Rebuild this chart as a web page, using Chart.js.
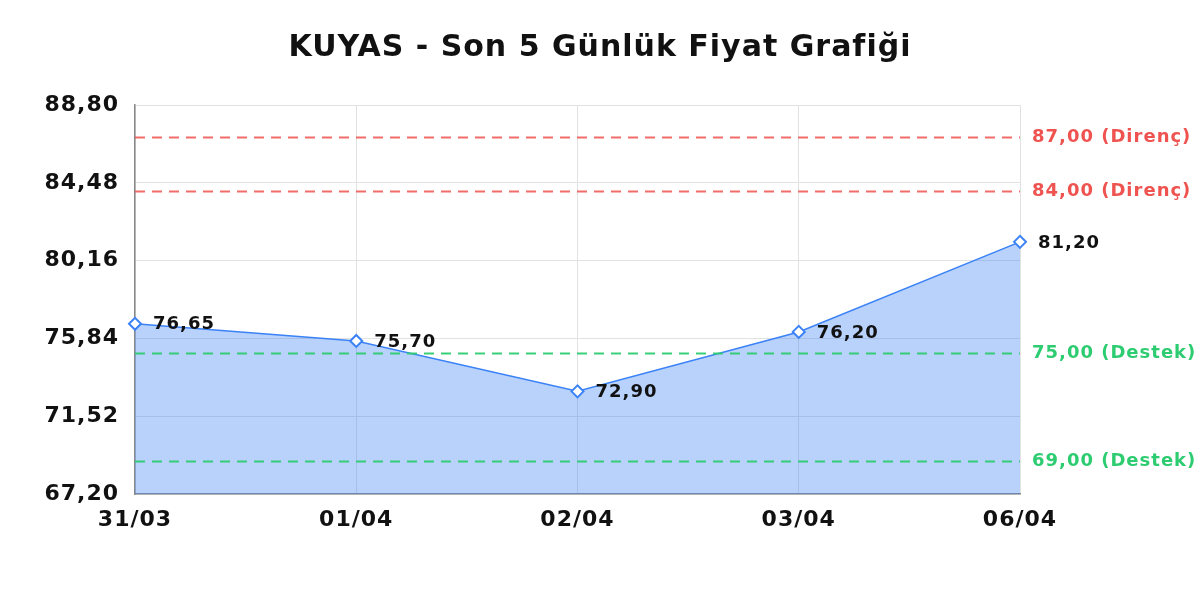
<!DOCTYPE html>
<html>
<head>
<meta charset="utf-8">
<script src="https://cdn.jsdelivr.net/npm/chart.js@4.4.1/dist/chart.umd.min.js"></script>
<style>
  html, body { margin: 0; padding: 0; background: #fff; }
  #wrap { width: 1200px; height: 600px; }
</style>
</head>
<body>
<div id="wrap"><canvas id="chart" width="1200" height="600"></canvas></div>
<script>
// price data
const dates = ['31/03', '01/04', '02/04', '03/04', '06/04'];
const prices = [76.65, 75.70, 72.90, 76.20, 81.20];
const yTicks = [67.20, 71.52, 75.84, 80.16, 84.48, 88.80];

// support / resistance levels
const levelValues = [87.00, 84.00, 75.00, 69.00];
const levelNames = ['Direnç', 'Direnç', 'Destek', 'Destek'];

const fmt = v => v.toFixed(2).replace('.', ',');
const FONT = "'DejaVu Sans', sans-serif";

// reference text is a bit wider (hinted advances), fake it with letter spacing
const spacing = {
  id: 'spacing',
  beforeDraw(chart) { chart.ctx.letterSpacing = '1px'; }
};

// draws the dashed levels + their labels on the right
const levelsPlugin = {
  id: 'levels',
  afterDatasetsDraw(chart) {
    const { ctx, chartArea, scales: { y } } = chart;
    ctx.save();
    levelValues.forEach((v, i) => {
      const py = y.getPixelForValue(v);
      const red = levelNames[i] === 'Direnç';
      ctx.strokeStyle = red ? 'rgba(239,83,80,0.85)' : 'rgba(46,204,113,0.95)';
      ctx.lineWidth = 2;
      ctx.setLineDash([10, 7]);
      ctx.beginPath();
      ctx.moveTo(chartArea.left, py);
      ctx.lineTo(chartArea.right, py);
      ctx.stroke();
      ctx.setLineDash([]);
      ctx.fillStyle = red ? '#ef5350' : '#2ecc71';
      ctx.font = 'bold 18px ' + FONT;
      ctx.textAlign = 'left';
      ctx.textBaseline = 'middle';
      ctx.fillText(fmt(v) + ' (' + levelNames[i] + ')', chartArea.right + 12, py);
    });
    ctx.restore();
  }
};

// value labels next to each point
const valueLabels = {
  id: 'valueLabels',
  afterDatasetsDraw(chart) {
    const { ctx } = chart;
    const meta = chart.getDatasetMeta(0);
    ctx.save();
    ctx.fillStyle = '#111';
    ctx.font = 'bold 18px ' + FONT;
    ctx.textAlign = 'left';
    ctx.textBaseline = 'middle';
    meta.data.forEach((pt, i) => {
      ctx.fillText(fmt(prices[i]), pt.x + 18, pt.y + 1);
    });
    ctx.restore();
  }
};

const ctx = document.getElementById('chart').getContext('2d');
new Chart(ctx, {
  type: 'line',
  data: {
    labels: dates,
    datasets: [{
      data: prices,
      borderColor: '#3b82f6',
      borderWidth: 1.5,
      backgroundColor: 'rgba(59,130,246,0.36)',
      fill: 'start',
      tension: 0,
      pointStyle: 'rectRot',
      pointRadius: 6,
      pointBorderWidth: 2,
      pointBackgroundColor: '#fff',
      pointBorderColor: '#3b82f6'
    }]
  },
  options: {
    responsive: false,
    animation: false,
    layout: { padding: { left: 0, right: 0, top: 0, bottom: 66 } },
    plugins: {
      legend: { display: false },
      tooltip: { enabled: false },
      title: {
        display: true,
        text: 'KUYAS - Son 5 Günlük Fiyat Grafiği',
        color: '#111',
        font: { family: FONT, size: 30, weight: 'bold' },
        padding: { top: 30, bottom: 39 }
      }
    },
    scales: {
      x: {
        offset: false,
        grid: { color: '#e2e2e2', drawTicks: false },
        border: { color: '#888', width: 1.5 },
        ticks: { color: '#111', font: { family: FONT, size: 22, weight: 'bold' }, padding: 13, maxRotation: 0 },
        afterFit(s) { s.height = 40; }
      },
      y: {
        min: yTicks[0],
        max: yTicks[yTicks.length - 1],
        afterBuildTicks(s) { s.ticks = yTicks.map(v => ({ value: v })); },
        grid: { color: '#e2e2e2', drawTicks: false },
        border: { color: '#888', width: 1.5 },
        ticks: {
          color: '#111',
          font: { family: FONT, size: 22, weight: 'bold' },
          padding: 16,
          callback: v => fmt(v)
        },
        afterFit(s) { s.width = 135; }
      },
      // empty right-hand box, keeps room for the level labels
      yRight: {
        position: 'right',
        min: yTicks[0],
        max: yTicks[yTicks.length - 1],
        grid: { display: false, drawTicks: false },
        border: { display: false },
        ticks: { display: false },
        afterFit(s) { s.width = 180; }
      }
    }
  },
  plugins: [spacing, levelsPlugin, valueLabels]
});
</script>
</body>
</html>
